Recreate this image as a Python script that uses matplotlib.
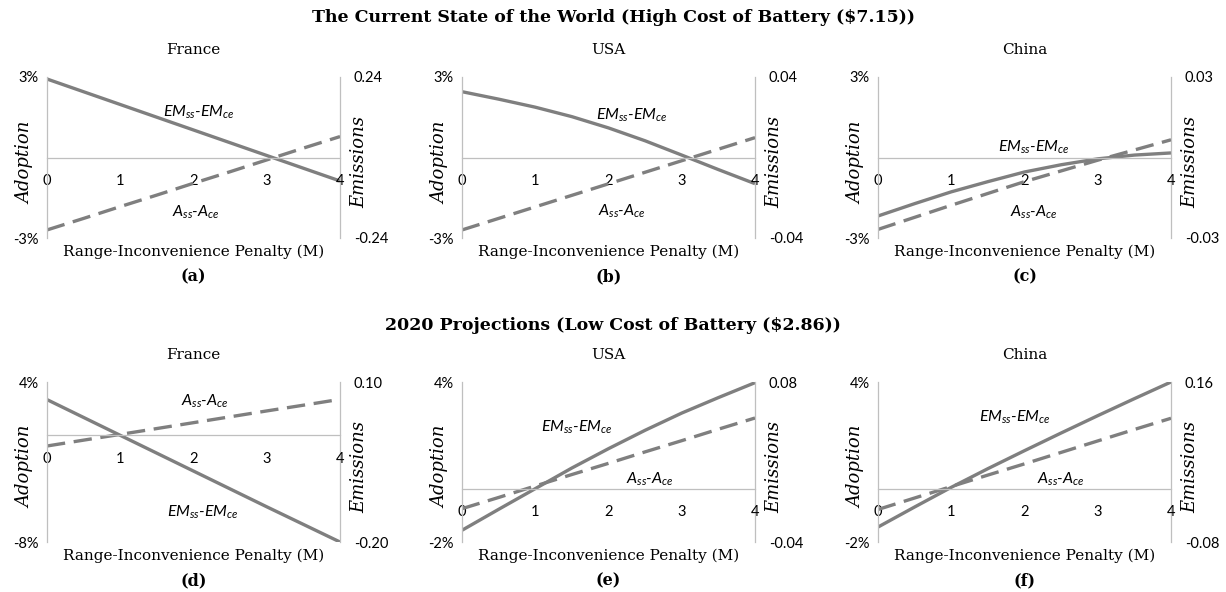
import matplotlib
matplotlib.use("Agg")
import matplotlib.pyplot as plt

# ---------------- data ----------------
penalty = [0, 0.5, 1, 1.5, 2, 2.5, 3, 3.5, 4]
tick_penalty = [0, 1, 2, 3, 4]

# Top row: current state (high battery cost)
france_hi_A = [-2.70, -2.27, -1.83, -1.40, -0.96, -0.53, -0.09, 0.35, 0.78]   # % adoption diff
france_hi_EM = [0.234, 0.196, 0.158, 0.120, 0.082, 0.044, 0.006, -0.032, -0.070]
usa_hi_A = [-2.70, -2.27, -1.84, -1.41, -0.98, -0.55, -0.12, 0.31, 0.74]
usa_hi_EM = [0.0327, 0.0290, 0.0250, 0.0203, 0.0147, 0.0083, 0.0012, -0.0060, -0.0130]
china_hi_A = [-2.68, -2.23, -1.78, -1.34, -0.90, -0.50, -0.10, 0.28, 0.66]
china_hi_EM = [-0.0218, -0.0172, -0.0128, -0.0090, -0.0054, -0.0027, -0.0005, 0.0009, 0.0017]

# Bottom row: 2020 projections (low battery cost)
france_lo_A = [-0.80, -0.36, 0.07, 0.51, 0.95, 1.39, 1.83, 2.26, 2.70]
france_lo_EM = [0.067, 0.0335, 0.0, -0.0335, -0.067, -0.1005, -0.134, -0.167, -0.200]
usa_lo_A = [-0.75, -0.33, 0.10, 0.53, 0.95, 1.38, 1.80, 2.23, 2.65]
usa_lo_EM = [-0.0312, -0.0155, 0.0, 0.0155, 0.0300, 0.0438, 0.0567, 0.0683, 0.0795]
china_lo_A = [-0.78, -0.35, 0.08, 0.51, 0.93, 1.36, 1.79, 2.22, 2.64]
china_lo_EM = [-0.0576, -0.0275, 0.002, 0.030, 0.057, 0.0835, 0.1095, 0.135, 0.160]

countries = ["France", "USA", "China"]
letters = ["(a)", "(b)", "(c)", "(d)", "(e)", "(f)"]
row_titles = ["The Current State of the World (High Cost of Battery ($7.15))",
              "2020 Projections (Low Cost of Battery ($2.86))"]
left_limits = [(-3, 3), (-3, 3), (-3, 3), (-8, 4), (-2, 4), (-2, 4)]
left_ticklabels = [("-3%", "3%"), ("-3%", "3%"), ("-3%", "3%"),
                   ("-8%", "4%"), ("-2%", "4%"), ("-2%", "4%")]
right_limits = [(-0.24, 0.24), (-0.04, 0.04), (-0.03, 0.03),
                (-0.20, 0.10), (-0.04, 0.08), (-0.08, 0.16)]
right_ticklabels = [("-0.24", "0.24"), ("-0.04", "0.04"), ("-0.03", "0.03"),
                    ("-0.20", "0.10"), ("-0.04", "0.08"), ("-0.08", "0.16")]
A_series = [france_hi_A, usa_hi_A, china_hi_A, france_lo_A, usa_lo_A, china_lo_A]
EM_series = [france_hi_EM, usa_hi_EM, china_hi_EM, france_lo_EM, usa_lo_EM, china_lo_EM]
# label anchor points (x in penalty units, y in adoption %)
EM_label_pos = [(2.08, 1.7), (2.32, 1.57), (2.13, 0.39), (2.13, -5.8), (1.57, 2.3), (1.87, 2.67)]
A_label_pos = [(2.03, -2.06), (2.18, -1.99), (2.13, -2.05), (2.15, 2.57), (2.56, 0.37), (2.5, 0.37)]

# ---------------- style ----------------
W, H = 1226, 592
SERIF = "DejaVu Serif"
SANS = "Lato"
LINE_C = "#7f7f7f"
AXIS_C = "#bfbfbf"
plt.rcParams["mathtext.fontset"] = "custom"
plt.rcParams["mathtext.it"] = "Lato:italic"
plt.rcParams["mathtext.rm"] = "Lato"

fig = plt.figure(figsize=(W / 100, H / 100), dpi=100)
fig.patch.set_facecolor("white")

col_left = [47, 462, 878]
ax_w = 293
row_top = [77, 382]
row_bot = [238, 542]


def px2fig(x, y):
    return x / W, 1 - y / H


for i in range(6):
    r, c = divmod(i, 3)
    l = col_left[c]
    t, b = row_top[r], row_bot[r]
    ax = fig.add_axes([l / W, 1 - b / H, ax_w / W, (b - t) / H])
    ax2 = ax.twinx()
    ax.set_zorder(ax2.get_zorder() + 1)
    ax.patch.set_visible(False)

    ax.set_xlim(0, 4)
    ax.set_ylim(*left_limits[i])
    ax2.set_ylim(*right_limits[i])

    ax.spines["top"].set_visible(False)
    ax2.spines["top"].set_visible(False)
    ax2.spines["bottom"].set_visible(False)
    ax2.spines["left"].set_visible(False)
    ax.spines["right"].set_visible(False)
    ax.spines["left"].set_color(AXIS_C)
    ax2.spines["right"].set_color(AXIS_C)
    ax.spines["bottom"].set_position(("data", 0))
    ax.spines["bottom"].set_color(AXIS_C)
    for s in ["left", "bottom"]:
        ax.spines[s].set_linewidth(0.9)
    ax2.spines["right"].set_linewidth(0.9)

    ax.set_xticks(tick_penalty)
    ax.set_xticklabels([str(p) for p in tick_penalty], fontfamily=SANS, fontsize=10.5)
    ax.tick_params(axis="x", length=0, pad=12)
    lo, hi = left_limits[i]
    ax.set_yticks([lo, hi])
    ax.set_yticklabels(left_ticklabels[i], fontfamily=SANS, fontsize=10.5)
    ax.tick_params(axis="y", length=0, pad=6)
    rlo, rhi = right_limits[i]
    ax2.set_yticks([rlo, rhi])
    ax2.set_yticklabels(right_ticklabels[i], fontfamily=SANS, fontsize=10.5)
    ax2.tick_params(axis="y", length=0, pad=10)

    # series
    ax2.plot(penalty, EM_series[i], color=LINE_C, lw=2.4, solid_capstyle="butt",
             solid_joinstyle="round")
    ax.plot(penalty, A_series[i], color=LINE_C, lw=2.4, dashes=(5.5, 2.6),
            dash_capstyle="butt")

    ax.text(*EM_label_pos[i], r"$EM_{ss}$-$EM_{ce}$", fontsize=11.5,
            fontfamily=SANS, fontstyle="italic", ha="center", va="center")
    ax.text(*A_label_pos[i], r"$A_{ss}$-$A_{ce}$", fontsize=11.5,
            fontfamily=SANS, fontstyle="italic", ha="center", va="center")

    cx = l + ax_w / 2
    fig.text(*px2fig(cx, t - 27), countries[c], fontfamily=SERIF, fontsize=11,
             ha="center", va="center")
    fig.text(*px2fig(cx, b + 14), "Range-Inconvenience Penalty (M)",
             fontfamily=SERIF, fontsize=11, ha="center", va="center")
    fig.text(*px2fig(cx, b + 39), letters[i], fontfamily=SERIF,
             fontweight="bold", fontsize=11.5, ha="center", va="center")
    fig.text(*px2fig(l - 22, (t + b) / 2 + 5), "Adoption", fontfamily=SERIF,
             fontstyle="italic", fontsize=13, rotation=90, ha="center", va="center")
    fig.text(*px2fig(l + ax_w + 19, (t + b) / 2 + 5), "Emissions", fontfamily=SERIF,
             fontstyle="italic", fontsize=13, rotation=90, ha="center", va="center")

fig.text(*px2fig(613, 18), row_titles[0], fontfamily=SERIF, fontweight="bold",
         fontsize=12.5, ha="center", va="center")
fig.text(*px2fig(613, 325), row_titles[1], fontfamily=SERIF, fontweight="bold",
         fontsize=12.5, ha="center", va="center")

fig.savefig("out.png", dpi=100)
